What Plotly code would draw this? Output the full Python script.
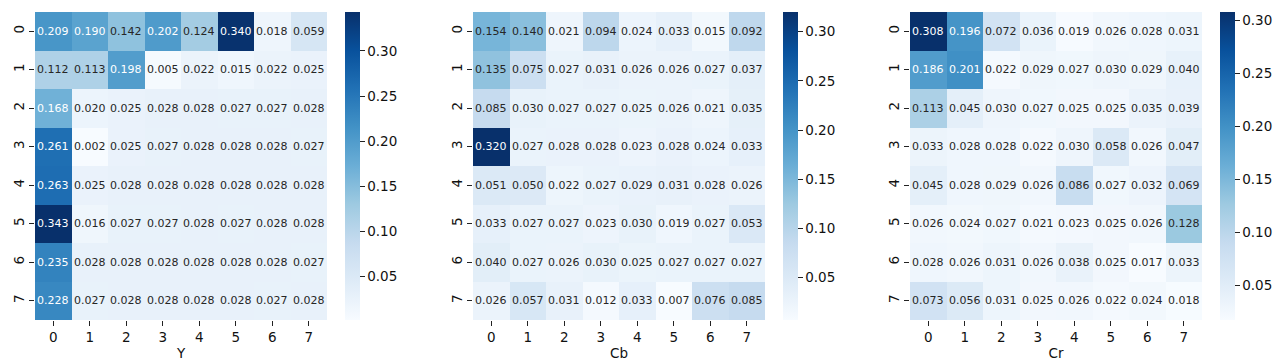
import plotly.graph_objects as go

labels = [0, 1, 2, 3, 4, 5, 6, 7]

y_vals = [
    [0.209, 0.190, 0.142, 0.202, 0.124, 0.340, 0.018, 0.059],
    [0.112, 0.113, 0.198, 0.005, 0.022, 0.015, 0.022, 0.025],
    [0.168, 0.020, 0.025, 0.028, 0.028, 0.027, 0.027, 0.028],
    [0.261, 0.002, 0.025, 0.027, 0.028, 0.028, 0.028, 0.027],
    [0.263, 0.025, 0.028, 0.028, 0.028, 0.028, 0.028, 0.028],
    [0.343, 0.016, 0.027, 0.027, 0.028, 0.027, 0.028, 0.028],
    [0.235, 0.028, 0.028, 0.028, 0.028, 0.028, 0.028, 0.027],
    [0.228, 0.027, 0.028, 0.028, 0.028, 0.028, 0.027, 0.028],
]

cb_vals = [
    [0.154, 0.140, 0.021, 0.094, 0.024, 0.033, 0.015, 0.092],
    [0.135, 0.075, 0.027, 0.031, 0.026, 0.026, 0.027, 0.037],
    [0.085, 0.030, 0.027, 0.027, 0.025, 0.026, 0.021, 0.035],
    [0.320, 0.027, 0.028, 0.028, 0.023, 0.028, 0.024, 0.033],
    [0.051, 0.050, 0.022, 0.027, 0.029, 0.031, 0.028, 0.026],
    [0.033, 0.027, 0.027, 0.023, 0.030, 0.019, 0.027, 0.053],
    [0.040, 0.027, 0.026, 0.030, 0.025, 0.027, 0.027, 0.027],
    [0.026, 0.057, 0.031, 0.012, 0.033, 0.007, 0.076, 0.085],
]

cr_vals = [
    [0.308, 0.196, 0.072, 0.036, 0.019, 0.026, 0.028, 0.031],
    [0.186, 0.201, 0.022, 0.029, 0.027, 0.030, 0.029, 0.040],
    [0.113, 0.045, 0.030, 0.027, 0.025, 0.025, 0.035, 0.039],
    [0.033, 0.028, 0.028, 0.022, 0.030, 0.058, 0.026, 0.047],
    [0.045, 0.028, 0.029, 0.026, 0.086, 0.027, 0.032, 0.069],
    [0.026, 0.024, 0.027, 0.021, 0.023, 0.025, 0.026, 0.128],
    [0.028, 0.026, 0.031, 0.026, 0.038, 0.025, 0.017, 0.033],
    [0.073, 0.056, 0.031, 0.025, 0.026, 0.022, 0.024, 0.018],
]

panels = [("Y", y_vals), ("Cb", cb_vals), ("Cr", cr_vals)]

# page body has an 8px margin, so the figure is 8px smaller and shifted
OFF = 8
W, H = 1284 - OFF, 364 - OFF
heat_left = [35 - OFF, 473 - OFF, 910 - OFF]
heat_w = 292
cbar_left = [345 - OFF, 783 - OFF, 1220 - OFF]
top, bottom = 12 - OFF, 320 - OFF

font = "DejaVu Sans, Arial, sans-serif"
fig = go.Figure()
annotations = []

for i, (name, z) in enumerate(panels):
    n = "" if i == 0 else str(i + 1)
    zmin = min(min(r) for r in z)
    zmax = max(max(r) for r in z)
    fig.add_trace(go.Heatmap(
        z=z, x=labels, y=labels,
        colorscale="Blues", zmin=zmin, zmax=zmax,
        xaxis="x" + n, yaxis="y" + n,
        xgap=0, ygap=0,
        colorbar=dict(
            x=cbar_left[i] / W, xanchor="left", xpad=0, ypad=0,
            y=1 - (top + bottom) / 2 / H, yanchor="middle",
            len=bottom - top, lenmode="pixels", thickness=15,
            outlinewidth=0, ticks="outside", ticklen=5, tickcolor="#222",
            tickvals=[0.05, 0.10, 0.15, 0.20, 0.25, 0.30], tickformat=".2f",
            tickfont=dict(family=font, size=13.5, color="#111"),
        ),
    ))
    for r in range(8):
        for c in range(8):
            v = z[r][c]
            norm = (v - zmin) / (zmax - zmin)
            annotations.append(dict(
                x=labels[c], y=labels[r], xref="x" + n, yref="y" + n,
                text=f"{v:.3f}", showarrow=False,
                font=dict(family=font, size=11,
                          color="white" if norm > 0.48 else "#262626"),
            ))
    x0 = heat_left[i] / W
    x1 = (heat_left[i] + heat_w) / W
    fig.update_layout(**{
        "xaxis" + n: dict(
            domain=[x0, x1], anchor="y" + n, range=[-0.5, 7.5],
            tickvals=labels, ticks="outside", ticklen=5, tickcolor="#222",
            showgrid=False, zeroline=False, showline=False, automargin=False,
            tickfont=dict(family=font, size=13.5, color="#111"),
            title=dict(text=name, standoff=4, font=dict(family=font, size=13.5, color="#111")),
        ),
        "yaxis" + n: dict(
            domain=[1 - bottom / H, 1 - top / H], anchor="x" + n,
            range=[7.5, -0.5], tickvals=labels, ticks="outside", ticklen=5,
            tickcolor="#222", tickangle=-90, showgrid=False, zeroline=False,
            showline=False, automargin=False,
            tickfont=dict(family=font, size=13.5, color="#111"),
        ),
    })

fig.update_layout(
    width=W, height=H,
    margin=dict(l=0, r=0, t=0, b=0, autoexpand=False),
    paper_bgcolor="white", plot_bgcolor="white",
    annotations=annotations,
    font=dict(family=font),
)

fig.write_html("out.html")
